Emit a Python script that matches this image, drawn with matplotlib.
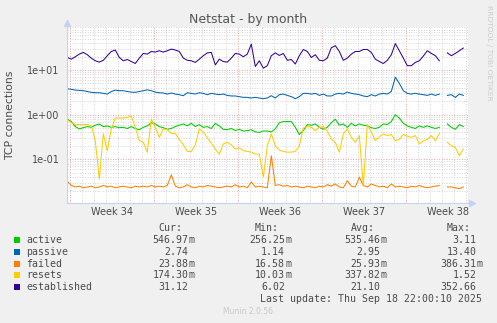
import numpy as np
import pandas as pd
import matplotlib
matplotlib.use('Agg')
import matplotlib.pyplot as plt
import matplotlib.dates as mdates
from matplotlib.ticker import LogLocator, FuncFormatter, NullFormatter
from matplotlib.patches import Rectangle

nan = np.nan

# ---------------- data ----------------
start_time = '2025-08-17 18:00'
sample_step = '8h'

labels = ['active', 'passive', 'failed', 'resets', 'established']
colors = ['#00CC00', '#0066B3', '#FF8000', '#FFCC00', '#330099']

active = [0.80, 0.70, 0.54, 0.48, 0.51, 0.54, 0.52, 0.58, 0.62, 0.54, 0.56, 0.52, 0.54, 0.51, 0.52, 0.49, 0.54, 0.49, 0.46, 0.52, 0.56, 0.66, 0.62, 0.54, 0.51,
          0.47, 0.49, 0.54, 0.58, 0.62, 0.56, 0.64, 0.54, 0.60, 0.52, 0.54, 0.49, 0.64, 0.56, 0.47, 0.46, 0.49, 0.44, 0.47, 0.43, 0.44, 0.46, 0.41, 0.40, 0.43,
          0.43, 0.41, 0.48, 0.66, 0.70, 0.70, 0.70, 0.52, 0.36, 0.44, 0.60, 0.58, 0.62, 0.52, 0.47, 0.52, 0.66, 0.79, 0.58, 0.62, 0.52, 0.64, 0.56, 0.62, 0.58,
          0.56, 0.51, 0.49, 0.52, 0.62, 0.60, 0.70, 1.0, 0.84, 0.64, 0.56, 0.52, 0.49, 0.56, 0.52, 0.56, 0.52, 0.49, 0.52, nan, 0.62, 0.52, 0.47, 0.60, 0.54]

passive = [3.8, 3.7, 3.55, 3.5, 3.44, 3.3, 3.16, 3.1, 3.1, 3.0, 2.89, 3.3, 3.55, 3.44, 3.44, 3.3, 3.2, 3.16, 3.3, 3.44, 3.6, 3.44, 3.2, 3.1, 3.05,
           2.89, 3.05, 2.89, 2.8, 2.66, 3.1, 3.0, 2.89, 3.1, 3.0, 2.8, 3.0, 2.89, 2.8, 2.89, 2.7, 2.62, 2.62, 2.53, 2.44, 2.44, 2.36, 2.44, 2.36, 2.28,
           2.36, 2.66, 2.36, 2.8, 2.89, 2.7, 2.53, 2.28, 2.53, 3.0, 3.0, 2.89, 3.0, 2.7, 2.89, 2.62, 2.62, 2.89, 3.0, 2.89, 3.2, 3.0, 2.89, 2.8, 2.62,
           2.53, 2.8, 2.62, 2.89, 3.0, 2.89, 3.3, 6.9, 5.0, 3.44, 3.0, 2.89, 3.0, 2.89, 2.8, 2.7, 2.89, 2.7, 2.89, nan, 2.7, 2.8, 2.44, 2.89, 2.7]

failed = [0.032, 0.026, 0.024, 0.025, 0.023, 0.024, 0.025, 0.023, 0.024, 0.026, 0.024, 0.025, 0.023, 0.024, 0.025, 0.024, 0.023, 0.025, 0.024, 0.025, 0.024, 0.026, 0.024, 0.025, 0.024,
          0.026, 0.045, 0.025, 0.023, 0.024, 0.027, 0.024, 0.023, 0.025, 0.024, 0.026, 0.025, 0.024, 0.023, 0.024, 0.025, 0.024, 0.027, 0.024, 0.025, 0.023, 0.031, 0.024, 0.025, 0.024,
          0.023, 0.12, 0.026, 0.027, 0.025, 0.026, 0.024, 0.025, 0.024, 0.023, 0.025, 0.024, 0.023, 0.025, 0.024, 0.027, 0.025, 0.028, 0.024, 0.023, 0.033, 0.025, 0.024, 0.04, 0.026,
          0.024, 0.028, 0.026, 0.024, 0.025, 0.023, 0.028, 0.024, 0.025, 0.024, 0.023, 0.025, 0.024, 0.026, 0.024, 0.023, 0.024, 0.025, 0.026, nan, 0.024, 0.024, 0.023, 0.022, 0.024]

resets = [0.76, 0.66, 0.60, 0.60, 0.60, 0.60, 0.56, 0.26, 0.036, 0.37, 0.157, 0.48, 0.84, 0.84, 0.84, 0.87, 0.93, 0.52, 0.26, 0.24, 0.145, 0.80, 0.52, 0.31, 0.48,
          0.46, 0.38, 0.38, 0.28, 0.21, 0.15, 0.15, 0.21, 0.48, 0.41, 0.30, 0.23, 0.17, 0.131, 0.22, 0.24, 0.21, 0.17, 0.18, 0.157, 0.15, 0.145, 0.131, 0.131, 0.04,
          0.20, 0.37, 0.20, 0.16, 0.15, 0.145, 0.145, 0.15, 0.20, 0.50, 0.54, 0.52, 0.44, 0.52, 0.54, 0.43, 0.28, 0.24, 0.145, 0.37, 0.48, 0.31, 0.24, 0.34, 0.025,
          0.60, 0.41, 0.26, 0.32, 0.37, 0.34, 0.36, 0.26, 0.28, 0.36, 0.33, 0.31, 0.34, 0.22, 0.26, 0.28, 0.34, 0.26, 0.38, nan, 0.24, 0.20, 0.186, 0.12, 0.17]

established = [19.1, 17.5, 19.8, 22.7, 24.8, 22.0, 18.5, 16.1, 15.0, 16.5, 20.9, 26.0, 28.0, 19.1, 16.1, 17.2, 15.5, 14.0, 18.5, 23.5, 22.7, 26.0, 25.2, 27.0, 25.2,
               27.0, 29.4, 28.0, 26.0, 18.5, 16.5, 16.1, 14.8, 17.5, 20.9, 24.2, 24.8, 13.0, 17.5, 15.5, 15.0, 18.5, 23.5, 22.7, 19.8, 22.7, 38.0, 12.0, 16.1, 11.0,
               12.5, 20.9, 24.2, 21.2, 23.5, 16.5, 17.2, 13.6, 20.9, 28.8, 26.0, 19.1, 22.0, 16.5, 16.1, 18.5, 31.6, 35.0, 26.0, 16.5, 18.5, 22.7, 26.0, 26.0, 28.8,
               28.8, 24.8, 17.5, 15.5, 14.0, 16.5, 22.0, 39.0, 27.0, 18.5, 12.5, 12.5, 14.8, 16.1, 20.5, 27.0, 23.5, 20.9, 16.1, nan, 24.2, 20.9, 23.5, 27.0, 31.0]

stat_cur = [0.54697, 2.74, 0.02388, 0.17430, 31.12]
stat_min = [0.25625, 1.14, 0.01658, 0.01003, 6.02]
stat_avg = [0.53546, 2.95, 0.02593, 0.33782, 21.10]
stat_max = [3.11, 13.40, 0.38631, 1.52, 352.66]

week_labels = ['Week 34', 'Week 35', 'Week 36', 'Week 37', 'Week 38']
week_label_dates = ['2025-08-21 12:00', '2025-08-28 12:00', '2025-09-04 12:00', '2025-09-11 12:00', '2025-09-18 12:00']
x_range = ['2025-08-17 17:24', '2025-09-20 03:20']
y_range = [0.0105, 91.9]

title = 'Netstat - by month'
ylabel = 'TCP connections'
last_update = 'Last update: Thu Sep 18 22:00:10 2025'

# ---------------- figure ----------------
W, H = 497, 323
BG = '#F0F0F0'
TXT = '#4a4a4a'
fig = plt.figure(figsize=(W / 100, H / 100), dpi=100, facecolor=BG)

def fx(px):
    return px / W

def fy(py):
    return 1 - py / H

ax = fig.add_axes([fx(67), fy(203), (468 - 67) / W, (203 - 27) / H])
ax.set_facecolor('white')

times = pd.date_range(start_time, periods=len(established), freq=sample_step)
series = [active, passive, failed, resets, established]
for vals, c in zip(series, colors):
    ax.plot(times, np.array(vals, dtype=float), color=c, lw=0.75, solid_joinstyle='round')

ax.set_yscale('log')
ax.set_ylim(*y_range)
ax.set_xlim(pd.Timestamp(x_range[0]), pd.Timestamp(x_range[1]))

ax.yaxis.set_major_locator(LogLocator(base=10, numticks=10))
ax.yaxis.set_minor_locator(LogLocator(base=10, subs=np.arange(2, 10), numticks=20))
ax.yaxis.set_major_formatter(FuncFormatter(lambda v, p: '%.0e' % v))
ax.yaxis.set_minor_formatter(NullFormatter())

ax.xaxis.set_major_locator(mdates.WeekdayLocator(byweekday=mdates.MO))
ax.xaxis.set_minor_locator(mdates.DayLocator())
ax.xaxis.set_major_formatter(NullFormatter())
ax.xaxis.set_minor_formatter(NullFormatter())

ax.set_axisbelow(True)
ax.grid(which='minor', color='#d4d4d4', linestyle=(0, (1, 1.6)), linewidth=0.7)
ax.grid(which='major', color='#eaa4a4', linestyle=(0, (1, 1.6)), linewidth=0.7)

for s in ['top', 'right']:
    ax.spines[s].set_visible(False)
for s in ['left', 'bottom']:
    ax.spines[s].set_color('#c8d0f4')
    ax.spines[s].set_linewidth(0.8)

ax.tick_params(axis='both', which='both', length=0)
ax.tick_params(axis='y', which='major', labelsize=7, labelcolor=TXT, pad=5.5)

# arrows
ax.plot([0], [1.025], marker='^', color='#c8d0f4', markersize=4, transform=ax.transAxes, clip_on=False)
ax.plot([1.009], [0], marker='>', color='#c8d0f4', markersize=4, transform=ax.transAxes, clip_on=False)

# week labels
trans = ax.get_xaxis_transform()
for d, lab in zip(week_label_dates, week_labels):
    ax.text(pd.Timestamp(d), -0.05, lab, transform=trans, ha='center', va='center',
            fontsize=7, color=TXT)

fig.text(fx(248), fy(19), title, ha='center', va='center', fontsize=9, color='#555555')
fig.text(fx(10), fy(115), ylabel, ha='center', va='center', rotation=90, fontsize=7.8, color=TXT)
fig.text(fx(488.5), fy(53), 'RRDTOOL / TOBI OETIKER', ha='center', va='center', rotation=270,
         fontsize=5.4, color='#cccccc')
fig.text(fx(248), fy(312), 'Munin 2.0.56', ha='center', va='center', fontsize=5.5, color='#c8c8c8')

# legend
mono = 'DejaVu Sans Mono'
LFS = 7.1
col_edges = [194.3, 291, 386.7, 482.7]
headers = ['Cur:', 'Min:', 'Avg:', 'Max:']
row_y = [240, 251.8, 263.6, 275.4, 287.2]
for e, h in zip(col_edges, headers):
    fig.text(fx(e - 12), fy(228), h, ha='right', va='center', fontsize=LFS, family=mono, color=TXT)

def fmt(v):
    if v < 1:
        return '%.2f' % (v * 1000), 'm'
    return '%.2f' % v, ''

for i, lab in enumerate(labels):
    y = row_y[i]
    fig.patches.append(Rectangle((fx(14), fy(y + 3)), 6 / W, 6 / H, transform=fig.transFigure,
                                 facecolor=colors[i], edgecolor='none'))
    fig.text(fx(26), fy(y), lab, ha='left', va='center', fontsize=LFS, family=mono, color=TXT)
    for e, st in zip(col_edges, [stat_cur, stat_min, stat_avg, stat_max]):
        num, suf = fmt(st[i])
        fig.text(fx(e - 6), fy(y), num, ha='right', va='center', fontsize=LFS, family=mono, color=TXT)
        if suf:
            fig.text(fx(e - 6), fy(y), suf, ha='left', va='center', fontsize=LFS, family=mono, color=TXT)

fig.text(fx(482.5), fy(299), last_update, ha='right', va='center', fontsize=LFS, family=mono, color=TXT)

fig.savefig('out.png', dpi=100, facecolor=BG)
